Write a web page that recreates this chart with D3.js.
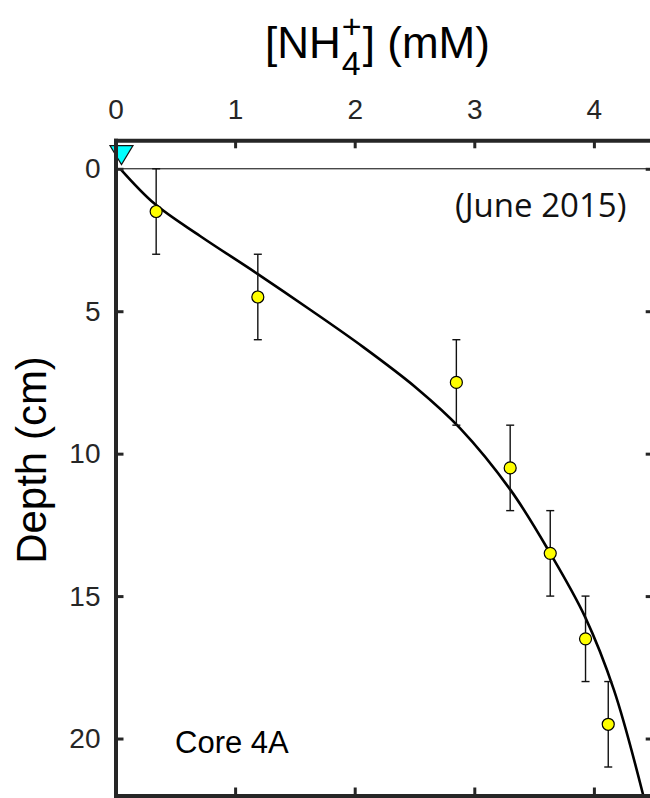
<!DOCTYPE html>
<html><head><meta charset="utf-8">
<script src="https://cdn.jsdelivr.net/npm/d3@7"></script>
<style>
body{margin:0;background:#fff;}
svg{display:block;}
</style></head>
<body>
<svg id="chart" width="650" height="798"></svg>
<script>
// ---- data ----
const depths = [1.5, 4.5, 7.5, 10.5, 13.5, 16.5, 19.5];
const nh4 = [0.34, 1.19, 2.85, 3.30, 3.635, 3.93, 4.12];
const depthErr = [1.5, 1.5, 1.5, 1.5, 1.5, 1.5, 1.5];
// model curve
const modelDepth = [0, 1.24, 2.36, 3.67, 4.94, 6.26, 7.70, 9.10, 11.28, 13.50, 15.73, 18.30, 22.0];
const modelNH4 =   [0.04, 0.33, 0.707, 1.181, 1.625, 2.072, 2.518, 2.88, 3.304, 3.635, 3.926, 4.168, 4.413];
// bottom-water value
const bwNH4 = [0.05];
const bwDepth = [-0.5];
const xTicks = [0, 1, 2, 3, 4];
const yTicks = [0, 5, 10, 15, 20];

const svg = d3.select("#chart");
const x = d3.scaleLinear().domain([0, 4.5]).range([115.5, 653.7]);
const y = d3.scaleLinear().domain([-1, 22]).range([140.3, 795.5]);
const axisCol = "#262626";

// zero line
svg.append("line")
  .attr("x1", x(0)).attr("x2", x(4.5))
  .attr("y1", y(0)).attr("y2", y(0))
  .attr("stroke", "#000").attr("stroke-width", 1);

// model curve
const line = d3.line().x((d, i) => x(modelNH4[i])).y(d => y(d)).curve(d3.curveCatmullRom.alpha(0.5));
svg.append("path").datum(modelDepth)
  .attr("d", line).attr("fill", "none")
  .attr("stroke", "#000").attr("stroke-width", 2.6);

// error bars
const eb = svg.append("g").attr("stroke", "#111").attr("stroke-width", 1.4);
depths.forEach((d, i) => {
  const cx = x(nh4[i]);
  eb.append("line").attr("x1", cx).attr("x2", cx)
    .attr("y1", y(d - depthErr[i])).attr("y2", y(d + depthErr[i]));
  [d - depthErr[i], d + depthErr[i]].forEach(v => {
    eb.append("line").attr("x1", cx - 4).attr("x2", cx + 4)
      .attr("y1", y(v)).attr("y2", y(v));
  });
});

// points
svg.append("g").selectAll("circle").data(depths).join("circle")
  .attr("cx", (d, i) => x(nh4[i])).attr("cy", d => y(d))
  .attr("r", 6).attr("fill", "#ffff00")
  .attr("stroke", "#000").attr("stroke-width", 1.2);

// bottom-water triangle
bwNH4.forEach((v, i) => {
  const cx = x(v), cy = y(bwDepth[i]);
  svg.append("path")
    .attr("d", `M${cx-11.5},${cy-9}L${cx+11.5},${cy-9}L${cx},${cy+10}Z`)
    .attr("fill", "#00ffff").attr("stroke", "#111").attr("stroke-width", 1.2);
});

// axes
function styleAxis(g, showLabels) {
  g.select(".domain").attr("stroke", axisCol).attr("stroke-width", 4);
  g.selectAll(".tick line").attr("stroke", axisCol).attr("stroke-width", 3);
  g.selectAll(".tick text").attr("fill", axisCol)
    .style("font-family", "'Liberation Sans', Arial, sans-serif")
    .style("font-size", "28px");
  if (!showLabels) g.selectAll(".tick text").remove();
}
svg.append("g").attr("transform", `translate(0,${y(-1)})`)
  .call(d3.axisTop(x).tickValues(xTicks).tickFormat(d3.format("d"))
        .tickSizeInner(-8).tickSizeOuter(0).tickPadding(21))
  .call(g => styleAxis(g, true));
svg.append("g").attr("transform", `translate(0,${y(22)})`)
  .call(d3.axisBottom(x).tickValues(xTicks).tickSizeInner(-8).tickSizeOuter(0))
  .call(g => styleAxis(g, false));
svg.append("g").attr("transform", `translate(${x(0)},0)`)
  .call(d3.axisLeft(y).tickValues(yTicks).tickFormat(d3.format("d"))
        .tickSizeInner(-8).tickSizeOuter(0).tickPadding(15))
  .call(g => styleAxis(g, true));
svg.append("g").attr("transform", `translate(${x(4.5)},0)`)
  .call(d3.axisRight(y).tickValues(yTicks).tickSizeInner(-8).tickSizeOuter(0))
  .call(g => styleAxis(g, false));
svg.selectAll(".domain").attr("stroke-linecap", "square");

// title [NH4+] (mM)
const tf = "'Liberation Sans', Arial, sans-serif";
const t1 = svg.append("text").attr("x", 265).attr("y", 58)
  .style("font-family", tf).style("font-size", "44px").attr("fill", "#000").text("[NH");
const w1 = t1.node().getComputedTextLength();
const sx = 265 + w1 + 1;
svg.append("text").attr("x", sx).attr("y", 75)
  .style("font-family", tf).style("font-size", "34px").attr("fill", "#000").text("4");
svg.append("text").attr("x", sx).attr("y", 38)
  .style("font-family", tf).style("font-size", "34px").attr("fill", "#000").text("+");
svg.append("text").attr("x", sx + 21).attr("y", 58)
  .style("font-family", tf).style("font-size", "44px").attr("fill", "#000").text("] (mM)");

// y label
svg.append("text")
  .attr("transform", "translate(46,460) rotate(-90)")
  .attr("text-anchor", "middle")
  .style("font-family", tf).style("font-size", "42px").attr("fill", "#000")
  .text("Depth (cm)");

// annotations
svg.append("text").attr("x", 455).attr("y", 217)
  .style("font-family", "'Open Sans', sans-serif").style("font-size", "33px")
  .attr("fill", "#111").text("(June 2015)");
svg.append("text").attr("x", 175).attr("y", 753)
  .style("font-family", tf).style("font-size", "31px")
  .attr("fill", "#000").text("Core 4A");
</script>
</body></html>
